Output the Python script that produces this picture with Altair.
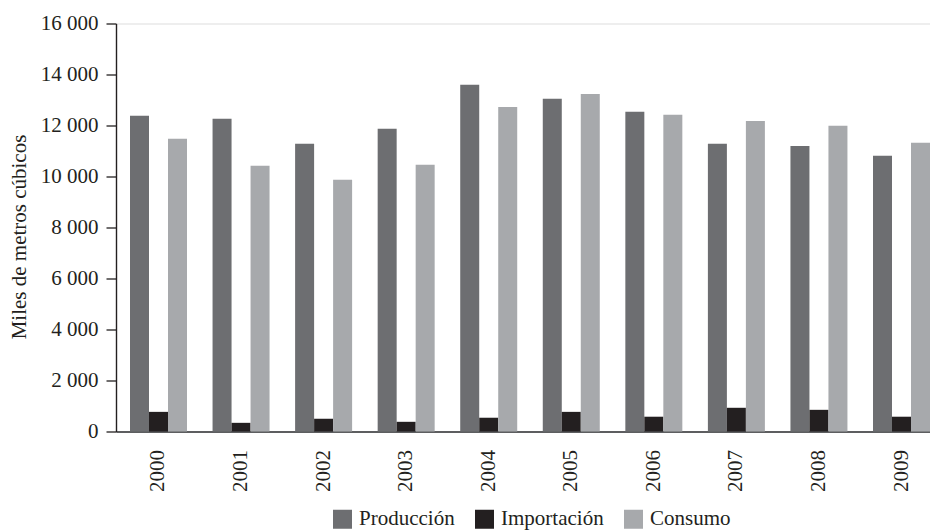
import altair as alt
import pandas as pd

# Annual volumes (thousands of cubic metres)
years = ["2000", "2001", "2002", "2003", "2004", "2005", "2006", "2007", "2008", "2009"]
produccion = [12380, 12260, 11280, 11870, 13600, 13050, 12540, 11280, 11200, 10810]
importacion = [770, 340, 500, 380, 540, 770, 580, 930, 850, 580]
consumo = [11480, 10420, 9870, 10460, 12730, 13240, 12420, 12180, 11990, 11320]

series = ["Producción", "Importación", "Consumo"]
colors = ["#6d6e71", "#231f20", "#a7a9ac"]

rows = []
for i, yr in enumerate(years):
    for name, vals in zip(series, [produccion, importacion, consumo]):
        rows.append({"anio": yr, "serie": name, "valor": vals[i]})
df = pd.DataFrame(rows)

FONT = "Liberation Serif"

chart = (
    alt.Chart(df)
    .mark_bar(strokeWidth=0)
    .encode(
        x=alt.X(
            "anio:N",
            sort=years,
            scale=alt.Scale(paddingInner=0.3096, paddingOuter=0.0848, align=1),
            axis=alt.Axis(
                title=None,
                labelAngle=270,
                labelAlign="right",
                labelBaseline="middle",
                labelPadding=18,
                ticks=False,
                labelFont=FONT,
                labelFontSize=21,
                labelColor="#231f20",
                domainColor="#5d5e60",
                domainWidth=2.2,
            ),
        ),
        xOffset=alt.XOffset(
            "serie:N", sort=series, scale=alt.Scale(paddingInner=0, paddingOuter=0)
        ),
        y=alt.Y(
            "valor:Q",
            scale=alt.Scale(domain=[0, 16000], nice=False),
            axis=alt.Axis(
                title="Miles de metros cúbicos",
                values=list(range(0, 16001, 2000)),
                labelExpr="replace(format(datum.value, ','), ',', ' ')",
                grid=False,
                tickSize=10,
                tickColor="#231f20",
                tickWidth=1.3,
                domainColor="#231f20",
                domainWidth=1.4,
                labelPadding=8,
                labelFont=FONT,
                labelFontSize=21,
                labelColor="#231f20",
                titleFont=FONT,
                titleFontSize=21,
                titleFontWeight="normal",
                titleColor="#231f20",
                titleAngle=270,
                titleAlign="center",
                titleBaseline="alphabetic",
                titleX=-91,
                titleY=213,
            ),
        ),
        color=alt.Color(
            "serie:N",
            sort=series,
            scale=alt.Scale(domain=series, range=colors),
            legend=alt.Legend(
                title=None,
                orient="none",
                direction="horizontal",
                legendX=216,
                legendY=485,
                symbolType="square",
                symbolSize=361,
                symbolStrokeWidth=0,
                symbolOpacity=1,
                labelFont=FONT,
                labelFontSize=21,
                labelColor="#231f20",
                labelOffset=6,
                columnPadding=19,
                padding=0,
            ),
        ),
    )
    .properties(
        width=814,
        height=408,
        padding={"left": 116, "top": 23.5, "right": 0, "bottom": 99.5},
        autosize=alt.AutoSizeParams(type="none"),
    )
    .configure_view(stroke=None)
    .configure(background="white")
)

chart.save("out.html", embed_options={"renderer": "svg", "actions": False})
